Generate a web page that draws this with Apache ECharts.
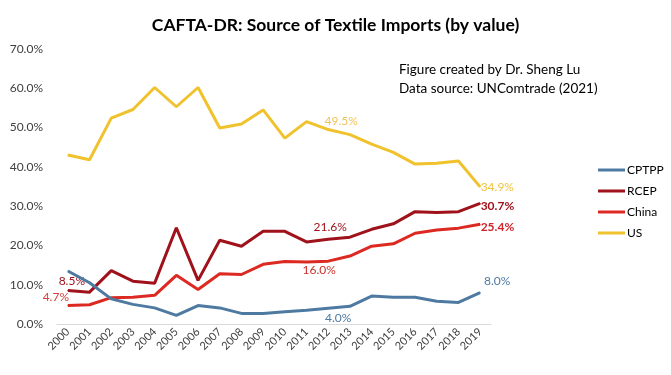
<!DOCTYPE html>
<html style="height: 100%">
<head>
  <meta charset="utf-8">
  <title>CAFTA-DR textile imports</title>
  <script src="https://cdn.jsdelivr.net/npm/echarts@6/dist/echarts.min.js"></script>
</head>
<body style="height: 100%; margin: 0; background: #fff">
<div id="container" style="width: 671px; height: 375px"></div>
<script type="text/javascript">
  let years = ['2000', '2001', '2002', '2003', '2004', '2005', '2006', '2007', '2008', '2009',
    '2010', '2011', '2012', '2013', '2014', '2015', '2016', '2017', '2018', '2019']

  // share of imports, %
  let cptpp = [13.5, 10.5, 6.4, 5.0, 4.1, 2.2, 4.7, 4.1, 2.7, 2.7, 3.1, 3.5, 4.0, 4.5, 7.1, 6.8, 6.8, 5.8, 5.5, 8.0]
  let rcep = [8.5, 8.1, 13.6, 10.9, 10.4, 24.5, 11.1, 21.3, 19.8, 23.6, 23.6, 20.9, 21.6, 22.1, 24.1, 25.5, 28.6, 28.4, 28.6, 30.7]
  let china = [4.7, 4.9, 6.7, 6.8, 7.3, 12.4, 8.8, 12.8, 12.6, 15.2, 15.9, 15.8, 16.0, 17.3, 19.8, 20.4, 23.1, 23.9, 24.4, 25.4]
  let us = [43.0, 41.8, 52.4, 54.6, 60.2, 55.3, 60.2, 49.9, 50.9, 54.5, 47.3, 51.5, 49.5, 48.2, 45.8, 43.7, 40.7, 40.9, 41.5, 34.9]

  let names = ['CPTPP', 'RCEP', 'China', 'US']
  let colors = ['#4e7aa2', '#a0121b', '#dc2a22', '#f0c22e']

  // which points get a value label: [index, position, offset, color, bold]
  let labelSpots = {
    CPTPP: [[12, 'bottom', [10, -2], '#4e7aa2'], [19, 'top', [17, 0], '#4e7aa2']],
    RCEP: [[0, 'top', [4, 2], '#a0121b'], [12, 'top', [2, -1], '#a0121b'], [19, 'right', [-5, 3], '#a0121b', true]],
    China: [[0, 'top', [-12, 3], '#d8403a'], [12, 'bottom', [-9, -3], '#c8302a'], [19, 'right', [-5, 3], '#d0242a', true]],
    US: [[12, 'top', [13, 3], '#f0c65a'], [19, 'right', [-5, 0], '#f0c440']]
  }

  function buildData(name, values) {
    let data = values.map(v => ({ value: v }))
    labelSpots[name].forEach(([i, pos, off, col, bold]) => {
      data[i].label = {
        show: true,
        position: pos,
        offset: off,
        color: col,
        fontSize: 12,
        fontWeight: bold ? 'bold' : 'normal',
        fontFamily: 'Lato',
        formatter: p => p.value.toFixed(1) + '%'
      }
    })
    return data
  }

  let allValues = [cptpp, rcep, china, us]
  let series = names.map((n, k) => ({
    name: n,
    type: 'line',
    data: buildData(n, allValues[k]),
    showSymbol: true,
    symbol: 'circle',
    symbolSize: 1,
    color: colors[k],
    lineStyle: { width: 3, color: colors[k] },
    itemStyle: { color: colors[k] },
    emphasis: { disabled: true },
    z: 4 - k
  }))

  let myChart = echarts.init(document.getElementById('container'))
  let option = {
    animation: false,
    title: {
      text: 'CAFTA-DR: Source of Textile Imports (by value)',
      left: 'center',
      top: 11,
      textStyle: { fontFamily: 'Lato', fontSize: 17.5, fontWeight: 'bold', color: '#000' }
    },
    graphic: [{
      type: 'text',
      left: 399,
      top: 60,
      style: {
        text: 'Figure created by Dr. Sheng Lu\nData source: UNComtrade (2021)',
        font: '13.5px Lato',
        lineHeight: 19,
        fill: '#000'
      }
    }],
    legend: {
      orient: 'vertical',
      left: 593,
      top: 159,
      itemWidth: 27,
      itemHeight: 3,
      itemGap: 9,
      icon: 'rect',
      textStyle: { fontFamily: 'Lato', fontSize: 12, color: '#000', padding: [0, 0, 0, -3] },
      data: names
    },
    grid: { left: 57, right: 180, top: 49, bottom: 51 },
    xAxis: {
      type: 'category',
      data: years,
      boundaryGap: true,
      axisLine: { lineStyle: { color: '#d9d9d9' } },
      axisTick: { show: false },
      axisLabel: { rotate: 45, interval: 0, fontFamily: 'Lato', fontSize: 11, color: '#404040', margin: 6 }
    },
    yAxis: {
      type: 'value',
      min: 0,
      max: 70,
      interval: 10,
      splitLine: { show: false },
      axisLine: { show: false },
      axisTick: { show: false },
      axisLabel: { fontFamily: 'Lato', fontSize: 12, color: '#404040', margin: 14, formatter: v => v.toFixed(1) + '%' }
    },
    series: series
  }
  myChart.setOption(option)
</script>
</body>
</html>
